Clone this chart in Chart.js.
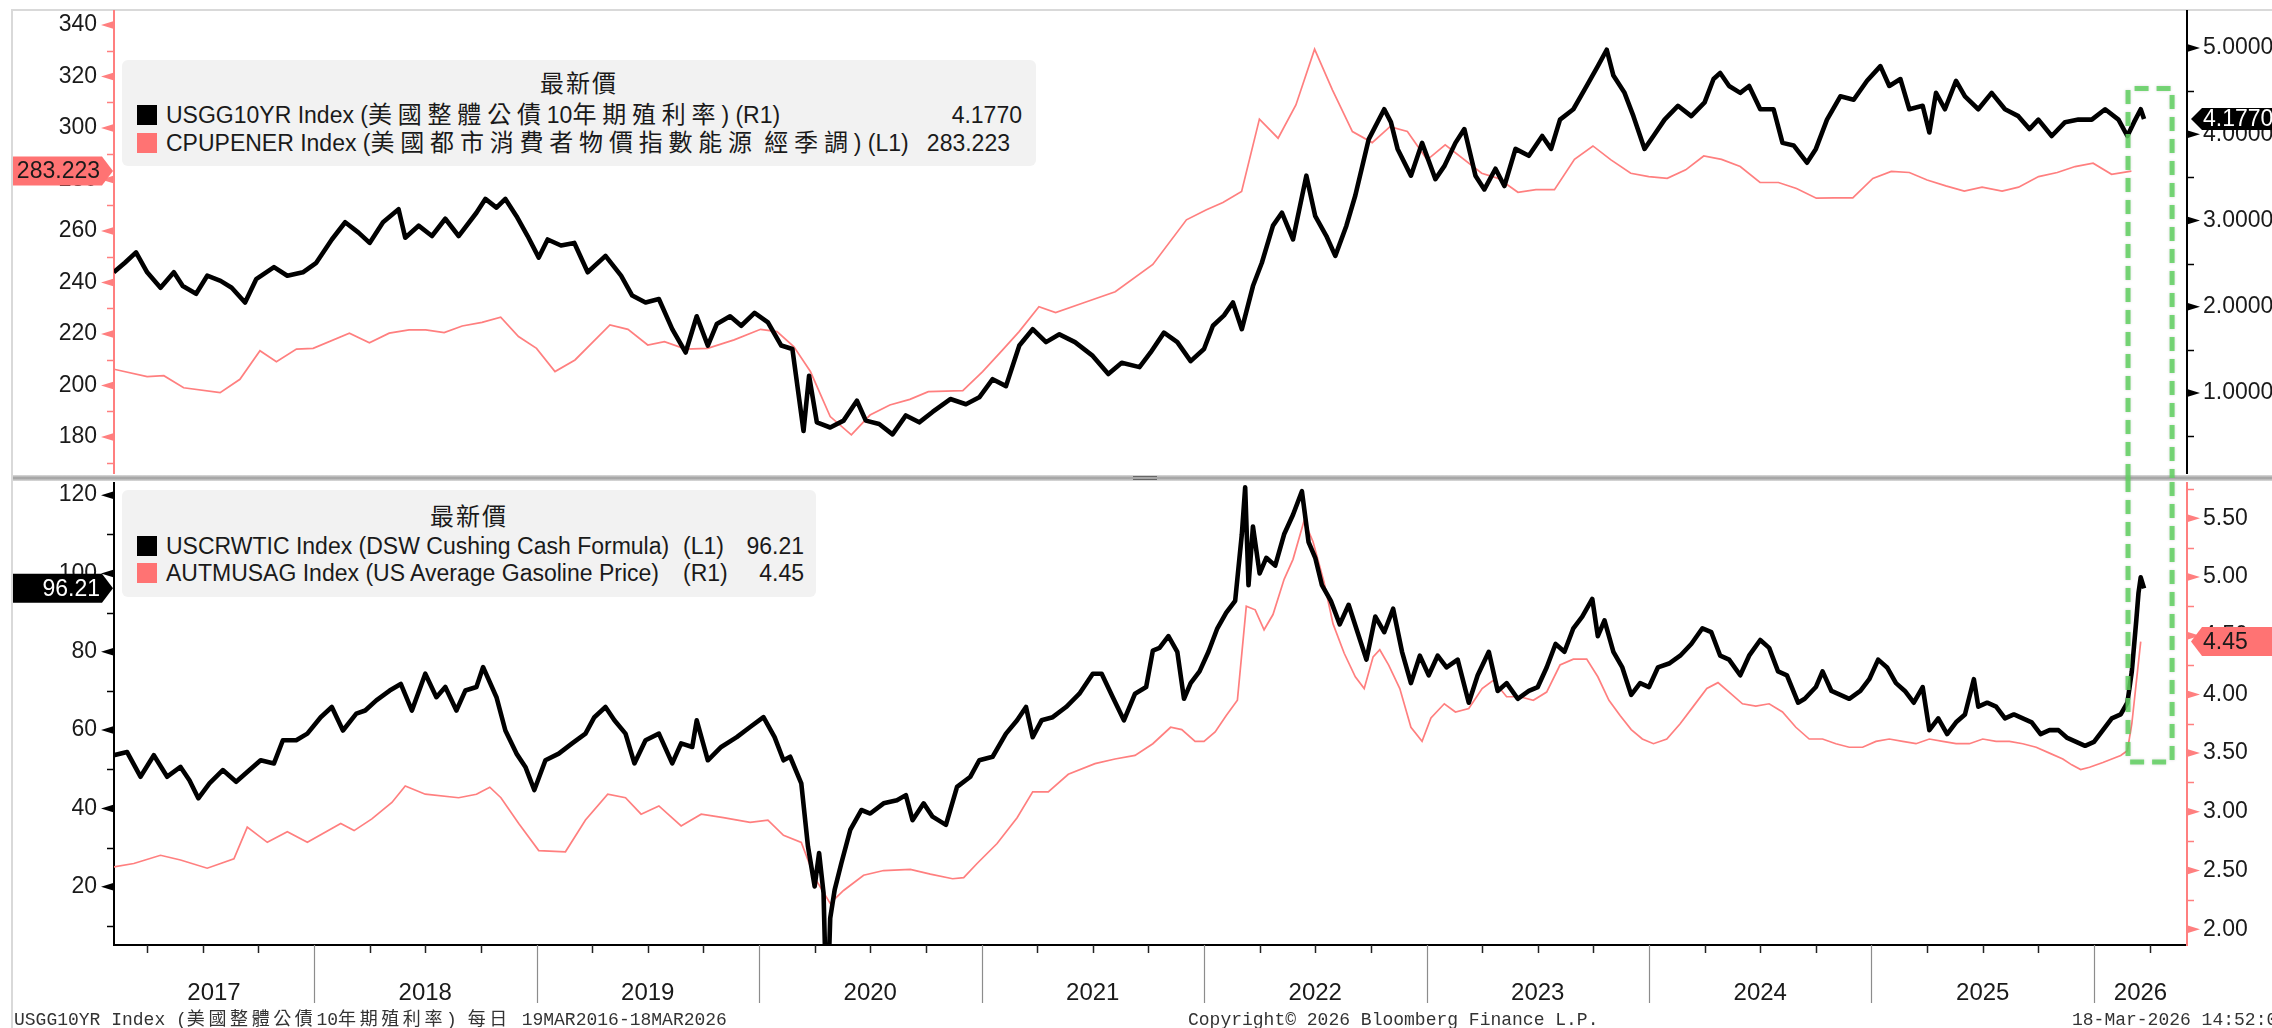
<!DOCTYPE html>
<html lang="zh-Hant">
<head>
<meta charset="utf-8">
<title>USGG10YR / CPUPENER / USCRWTIC / AUTMUSAG</title>
<script src="https://cdn.jsdelivr.net/npm/chart.js@4.4.1/dist/chart.umd.min.js"></script>
<style>
  html,body{margin:0;padding:0;background:#fff;}
  #page{position:relative;width:2272px;height:1028px;overflow:hidden;background:#fff;}
  .frameL{position:absolute;left:11px;top:9px;width:2px;height:1019px;background:#d9d9d9;z-index:0;}
  .frameT{position:absolute;left:11px;top:9px;width:2261px;height:2px;background:#d9d9d9;z-index:0;}
  .sep{position:absolute;left:13px;top:475px;width:2259px;height:6px;background:linear-gradient(#dcdcdc,#9c9c9c 50%,#dcdcdc);z-index:0;}
  .grip{position:absolute;left:1133px;width:24px;height:1px;background:#666;z-index:0;}
  canvas{position:absolute;left:0;z-index:1;}
  #c1{top:0;}
  #c2{top:478px;}
  .lg{position:absolute;background:#f2f2f2;border-radius:6px;font-family:"Liberation Sans","Noto Sans CJK TC",sans-serif;font-size:23px;color:#1a1a1a;z-index:3;}
  .lg .ttl{position:absolute;left:0;right:0;text-align:center;height:28px;line-height:28px;font-size:24px;letter-spacing:2px;}
  .lg .row{position:absolute;left:0;right:0;height:28px;line-height:28px;white-space:nowrap;}
  .lg .sw{position:absolute;left:15px;top:4px;width:20px;height:20px;}
  .lg .tx{position:absolute;left:44px;top:0;}
  .lg .tag{position:absolute;top:0;}
  .lg .val{position:absolute;top:0;}
  .lg .cj{font-size:24px;letter-spacing:5.8px;}
  .foot{position:absolute;top:1009px;height:22px;line-height:22px;font-family:"Liberation Mono","Noto Sans CJK TC",monospace;font-size:18px;color:#333;white-space:nowrap;z-index:3;}
  .foot .cj{font-size:18px;letter-spacing:3.6px;}
</style>
</head>
<body>
<div id="page">
  <div class="frameL"></div>
  <div class="frameT"></div>
  <div class="sep"></div>
  <div class="grip" style="top:476px"></div>
  <div class="grip" style="top:479px"></div>

  <canvas id="c1" width="2272" height="478"></canvas>
  <canvas id="c2" width="2272" height="550"></canvas>

  <div class="lg" style="left:122px;top:60px;width:914px;height:106px;">
    <div class="ttl" style="top:10px;">最新價</div>
    <div class="row" style="top:41px;"><span class="sw" style="background:#000;"></span><span class="tx">USGG10YR Index (<span class="cj">美國整體公債</span>10<span class="cj">年期殖利率</span>) (R1)</span><span class="val" style="right:14px;">4.1770</span></div>
    <div class="row" style="top:69px;"><span class="sw" style="background:#ff7373;"></span><span class="tx">CPUPENER Index (<span class="cj">美國都市消費者物價指數能源</span> <span class="cj">經季調</span>) (L1)</span><span class="val" style="right:26px;">283.223</span></div>
  </div>

  <div class="lg" style="left:122px;top:490px;width:694px;height:107px;">
    <div class="ttl" style="top:13px;">最新價</div>
    <div class="row" style="top:42px;"><span class="sw" style="background:#000;"></span><span class="tx">USCRWTIC Index (DSW Cushing Cash Formula)</span><span class="tag" style="left:561px;">(L1)</span><span class="val" style="right:12px;">96.21</span></div>
    <div class="row" style="top:69px;"><span class="sw" style="background:#ff7373;"></span><span class="tx">AUTMUSAG Index (US Average Gasoline Price)</span><span class="tag" style="left:561px;">(R1)</span><span class="val" style="right:12px;">4.45</span></div>
  </div>

  <div class="foot" style="left:14px;">USGG10YR Index (<span class="cj">美國整體公債</span>10<span class="cj">年期殖利率</span>) <span class="cj">每日</span> 19MAR2016-18MAR2026</div>
  <div class="foot" style="left:1188px;">Copyright© 2026 Bloomberg Finance L.P.</div>
  <div class="foot" style="left:2072px;">18-Mar-2026 14:52:03</div>
</div>

<script>
// ---------------- DATA (decimal-year dates) ----------------
const yearLabels = ['2017','2018','2019','2020','2021','2022','2023','2024','2025','2026'];
const cpiTicks   = [180,200,220,240,260,280,300,320,340];
const yieldTicks = [1,2,3,4,5];
const wtiTicks   = [20,40,60,80,100,120];
const gasTicks   = [2,2.5,3,3.5,4,4.5,5,5.5];

// USGG10YR Index (R1, top)
const usgg10yrT = [2017.10,2017.15,2017.20,2017.25,2017.31,2017.37,2017.41,2017.47,2017.52,2017.58,2017.63,2017.69,2017.74,2017.82,2017.88,2017.95,
  2018.01,2018.08,2018.14,2018.20,2018.25,2018.31,2018.38,2018.41,2018.47,2018.53,2018.59,2018.65,2018.73,2018.77,2018.82,2018.86,2018.91,2018.96,
  2019.01,2019.05,2019.11,2019.17,2019.23,2019.31,2019.38,2019.43,2019.49,2019.55,2019.61,2019.67,2019.72,2019.77,2019.81,2019.87,2019.92,2019.98,
  2020.04,2020.10,2020.15,2020.20,2020.225,2020.26,2020.32,2020.38,2020.44,2020.48,2020.54,2020.60,2020.66,2020.72,2020.78,2020.86,2020.93,2020.99,
  2021.05,2021.11,2021.17,2021.23,2021.29,2021.35,2021.42,2021.50,2021.57,2021.63,2021.71,2021.76,2021.82,2021.88,2021.94,2022.00,
  2022.04,2022.09,2022.13,2022.17,2022.22,2022.26,2022.31,2022.35,2022.40,2022.46,2022.50,2022.55,2022.59,2022.64,2022.68,2022.74,2022.81,2022.84,2022.87,2022.93,2022.98,
  2023.04,2023.08,2023.13,2023.17,2023.22,2023.26,2023.31,2023.35,2023.40,2023.46,2023.52,2023.56,2023.60,2023.66,2023.72,2023.77,2023.81,2023.84,2023.89,2023.93,2023.98,
  2024.02,2024.07,2024.13,2024.19,2024.25,2024.29,2024.32,2024.36,2024.41,2024.45,2024.50,2024.56,2024.60,2024.65,2024.71,2024.75,2024.80,2024.86,2024.92,2024.98,
  2025.04,2025.08,2025.13,2025.17,2025.23,2025.26,2025.29,2025.33,2025.38,2025.42,2025.48,2025.54,2025.60,2025.66,2025.71,2025.75,2025.81,2025.87,2025.93,2025.99,
  2026.05,2026.11,2026.15,2026.18,2026.21,2026.225];
const usgg10yrV = [2.40,2.51,2.63,2.40,2.22,2.40,2.24,2.15,2.36,2.30,2.22,2.05,2.32,2.46,2.36,2.40,
  2.51,2.78,2.98,2.86,2.74,2.98,3.13,2.80,2.94,2.82,3.02,2.82,3.09,3.25,3.15,3.25,3.05,2.82,
  2.57,2.78,2.71,2.74,2.40,2.59,2.36,2.13,2.05,2.09,1.74,1.47,1.89,1.55,1.80,1.89,1.78,1.93,
  1.82,1.55,1.51,0.56,1.20,0.66,0.60,0.68,0.91,0.68,0.64,0.52,0.74,0.66,0.78,0.93,0.87,0.95,
  1.16,1.08,1.55,1.74,1.59,1.68,1.59,1.43,1.22,1.35,1.30,1.47,1.70,1.59,1.37,1.51,
  1.78,1.90,2.05,1.74,2.24,2.51,2.94,3.09,2.78,3.52,3.05,2.82,2.59,2.94,3.29,3.94,4.29,4.14,3.83,3.52,3.90,
  3.48,3.63,3.90,4.06,3.52,3.36,3.60,3.40,3.83,3.75,3.98,3.83,4.17,4.29,4.56,4.79,4.98,4.68,4.48,4.21,3.83,
  3.98,4.17,4.33,4.21,4.37,4.64,4.71,4.56,4.48,4.56,4.29,4.29,3.90,3.87,3.67,3.83,4.17,4.44,4.40,4.62,
  4.79,4.56,4.64,4.29,4.33,4.02,4.48,4.29,4.62,4.44,4.29,4.48,4.29,4.21,4.06,4.17,3.98,4.14,4.17,4.17,
  4.29,4.17,3.98,4.14,4.29,4.177];

// CPUPENER Index (L1, top)
const cpupenerT = [2017.101,2017.250,2017.325,2017.414,2017.578,2017.667,2017.757,2017.831,2017.921,2017.996,
  2018.159,2018.249,2018.338,2018.427,2018.502,2018.585,2018.666,2018.755,2018.839,2018.919,
  2019.000,2019.083,2019.173,2019.330,2019.411,2019.500,2019.575,2019.670,2019.769,2019.888,
  2020.007,2020.081,2020.156,2020.231,2020.320,2020.415,2020.499,2020.588,2020.678,2020.761,2020.916,
  2021.005,2021.095,2021.169,2021.258,2021.333,2021.453,2021.601,2021.770,2021.921,
  2022.011,2022.085,2022.169,2022.249,2022.333,2022.413,2022.497,2022.577,2022.667,2022.756,2022.836,2022.914,
  2023.003,2023.084,2023.248,2023.322,2023.411,2023.492,2023.575,2023.665,2023.748,2023.829,2023.918,2023.999,
  2024.082,2024.165,2024.246,2024.326,2024.410,2024.499,2024.582,2024.663,2024.752,2024.833,2024.916,
  2025.006,2025.089,2025.170,2025.250,2025.334,2025.417,2025.497,2025.587,2025.661,2025.751,2025.835,2025.915,2025.996,
  2026.079,2026.168];
const cpupenerV = [206.3,203.4,203.8,199.1,197.2,202.4,213.5,209.2,214.1,214.4,
  220.3,216.6,220.3,221.6,221.6,220.5,223.1,224.5,226.5,219.0,
  214.4,205.4,209.9,223.5,221.8,215.7,217.0,214.1,214.4,217.7,
  221.8,220.9,215.1,205.4,187.9,180.8,188.5,192.4,194.6,197.6,198.0,
  205.4,213.8,220.9,230.6,228.3,231.9,236.4,247.0,264.3,
  268.2,271.0,275.3,303.4,296.0,308.9,330.6,314.8,298.6,294.3,300.5,298.6,
  287.6,293.4,282.4,280.4,275.0,276.0,276.0,287.8,293.0,287.6,282.4,281.1,
  280.4,283.7,289.1,287.8,285.0,278.8,278.8,276.5,272.7,272.8,272.8,
  280.4,283.1,282.7,279.8,277.5,275.5,277.0,275.5,277.0,281.1,282.7,285.0,286.3,
  282.0,283.223];

// USCRWTIC Index (L1, bottom)
const uscrwticT = [2017.10,2017.16,2017.22,2017.28,2017.34,2017.40,2017.44,2017.48,2017.53,2017.59,2017.65,2017.71,2017.76,2017.82,2017.86,2017.92,2017.97,
  2018.03,2018.08,2018.13,2018.19,2018.23,2018.28,2018.34,2018.39,2018.44,2018.50,2018.55,2018.59,2018.64,2018.68,2018.73,2018.76,2018.82,2018.86,2018.91,2018.95,2018.99,
  2019.04,2019.10,2019.16,2019.22,2019.26,2019.31,2019.35,2019.40,2019.44,2019.49,2019.55,2019.61,2019.65,2019.70,2019.72,2019.77,2019.83,2019.90,2019.96,
  2020.02,2020.07,2020.11,2020.14,2020.19,2020.22,2020.25,2020.27,2020.29,2020.305,2020.32,2020.34,2020.37,2020.41,2020.46,2020.50,2020.56,2020.62,2020.66,2020.69,2020.74,2020.78,2020.84,2020.89,2020.95,2020.99,
  2021.05,2021.11,2021.16,2021.20,2021.23,2021.27,2021.32,2021.38,2021.44,2021.50,2021.54,2021.59,2021.64,2021.69,2021.74,2021.77,2021.80,2021.84,2021.88,2021.91,2021.94,2021.98,
  2022.02,2022.06,2022.10,2022.14,2022.17,2022.185,2022.20,2022.22,2022.25,2022.28,2022.32,2022.36,2022.40,2022.44,2022.47,2022.50,2022.53,2022.57,2022.61,2022.65,2022.69,2022.73,2022.77,2022.81,2022.85,2022.89,2022.93,2022.97,
  2023.01,2023.05,2023.09,2023.14,2023.19,2023.23,2023.28,2023.32,2023.36,2023.41,2023.46,2023.50,2023.54,2023.58,2023.62,2023.66,2023.70,2023.745,2023.77,2023.80,2023.84,2023.88,2023.92,2023.96,
  2024.00,2024.04,2024.09,2024.14,2024.19,2024.24,2024.28,2024.32,2024.36,2024.41,2024.45,2024.50,2024.54,2024.58,2024.62,2024.67,2024.70,2024.75,2024.78,2024.82,2024.86,2024.90,2024.95,2024.99,
  2025.03,2025.07,2025.11,2025.15,2025.19,2025.23,2025.26,2025.30,2025.34,2025.38,2025.42,2025.46,2025.48,2025.52,2025.56,2025.60,2025.64,2025.68,2025.72,2025.76,2025.80,2025.84,2025.88,2025.92,2025.96,
  2026.00,2026.04,2026.08,2026.12,2026.15,2026.17,2026.19,2026.20,2026.21,2026.225];
const uscrwticV = [53.6,54.4,48.1,53.6,48.1,50.6,47.2,42.6,46.4,49.8,46.8,49.8,52.3,51.5,57.4,57.4,59.1,
  63.3,65.9,59.9,64.2,65.0,67.6,70.1,71.8,65.0,74.4,68.4,71.0,65.0,70.1,71.0,76.1,68.4,59.9,54.0,50.6,44.7,
  52.3,54.0,56.6,59.1,63.3,65.9,62.5,59.1,51.5,57.4,59.1,51.5,56.6,55.7,62.5,52.3,55.7,58.2,60.8,
  63.3,58.2,52.3,53.2,46.4,30.3,20.1,28.6,18.4,-15.0,12.0,19.2,26.0,34.5,39.6,38.7,41.3,42.1,43.4,37.0,41.3,37.9,35.8,45.5,48.1,52.3,
  53.2,59.1,62.5,65.9,58.2,62.5,63.3,65.9,69.3,74.4,74.4,68.4,62.5,69.3,71.0,80.3,81.0,84.0,80.0,68.0,72.0,75.0,
  80.0,86.0,90.0,93.0,110.0,122.0,97.0,112.0,100.0,104.0,102.0,110.0,115.0,121.0,108.0,104.0,97.0,93.0,87.0,92.0,85.0,78.0,89.0,85.0,91.0,80.0,72.0,79.0,
  74.0,79.0,76.0,78.0,67.0,74.0,80.0,70.0,72.0,68.0,70.0,71.0,76.0,82.0,80.0,86.0,89.0,93.5,84.0,88.0,80.0,76.0,69.0,72.0,
  71.0,76.0,77.0,79.0,82.0,86.0,85.0,79.0,78.0,74.0,79.0,83.0,81.0,75.0,74.0,67.0,68.0,71.0,75.0,70.0,69.0,68.0,70.0,73.0,
  78.0,76.0,72.0,70.0,67.0,71.0,60.0,63.0,59.0,62.0,64.0,73.0,66.0,67.0,66.0,63.0,64.0,63.0,62.0,59.0,60.0,60.0,58.0,57.0,56.0,
  57.0,60.0,63.0,64.0,67.0,75.0,88.0,95.0,99.0,96.21];

// AUTMUSAG Index (R1, bottom)
const autmusagT = [2017.10,2017.19,2017.31,2017.40,2017.52,2017.64,2017.70,2017.79,2017.88,2017.97,
  2018.12,2018.18,2018.26,2018.35,2018.41,2018.50,2018.65,2018.73,2018.79,2018.84,2018.92,
  2019.01,2019.13,2019.22,2019.32,2019.40,2019.47,2019.55,2019.65,2019.74,2019.84,2019.96,
  2020.04,2020.11,2020.19,2020.25,2020.32,2020.38,2020.47,2020.56,2020.68,2020.77,2020.87,2020.92,2020.98,
  2021.07,2021.16,2021.23,2021.30,2021.39,2021.51,2021.60,2021.69,2021.77,2021.85,2021.90,2021.96,
  2022.00,2022.05,2022.10,2022.15,2022.19,2022.23,2022.27,2022.31,2022.36,2022.40,2022.45,2022.49,2022.54,2022.58,2022.63,2022.68,2022.72,2022.76,2022.79,2022.83,2022.88,2022.93,2022.98,
  2023.02,2023.08,2023.13,2023.19,2023.25,2023.30,2023.36,2023.42,2023.48,2023.54,2023.60,2023.66,2023.72,2023.77,2023.82,2023.87,2023.92,2023.97,
  2024.02,2024.08,2024.14,2024.20,2024.26,2024.31,2024.36,2024.42,2024.48,2024.54,2024.60,2024.66,2024.72,2024.78,2024.84,2024.90,2024.96,
  2025.02,2025.08,2025.14,2025.20,2025.26,2025.32,2025.38,2025.44,2025.50,2025.56,2025.62,2025.68,2025.74,2025.80,2025.86,2025.90,2025.94,2025.98,
  2026.04,2026.08,2026.12,2026.15,2026.17,2026.19,2026.21];
const autmusagV = [2.53,2.56,2.63,2.59,2.52,2.60,2.87,2.74,2.83,2.74,
  2.90,2.84,2.94,3.08,3.22,3.15,3.12,3.15,3.21,3.12,2.90,
  2.67,2.66,2.93,3.15,3.12,2.98,3.05,2.88,2.98,2.95,2.91,
  2.93,2.80,2.74,2.44,2.22,2.33,2.46,2.50,2.51,2.47,2.43,2.44,2.56,
  2.73,2.95,3.17,3.17,3.32,3.41,3.45,3.48,3.58,3.72,3.70,3.60,
  3.60,3.68,3.82,3.95,4.75,4.72,4.55,4.68,4.98,5.15,5.48,5.30,4.95,4.60,4.35,4.15,4.05,4.32,4.38,4.25,4.05,3.72,3.60,
  3.80,3.92,3.85,3.88,4.05,4.12,3.98,3.98,3.95,4.02,4.25,4.30,4.30,4.15,3.95,3.82,3.70,3.62,
  3.58,3.62,3.75,3.90,4.05,4.10,4.02,3.92,3.90,3.92,3.85,3.72,3.62,3.62,3.58,3.55,3.55,
  3.60,3.62,3.60,3.58,3.62,3.60,3.58,3.58,3.62,3.60,3.60,3.58,3.55,3.50,3.45,3.40,3.36,3.38,
  3.42,3.45,3.48,3.52,3.75,4.10,4.45];

// highlighted window (green dashed box): x range in years, top on yield scale, bottom on gasoline scale
const highlightX = [2026.153, 2026.351];
const highlightTopYield = 4.53;
const highlightBottomGas = 3.425;

// ---------------- CHART ----------------
const X_MIN = 2017.101, X_MAX = 2026.418;
const RED = '#ff7f7f', RED_FILL = '#ff7373';
const TICK_FONT = {family: '"Liberation Sans"', size: 23};
const LABEL_COLOR = '#1a1a1a';

function pts(ts, vs) { return ts.map((t, i) => ({x: t, y: vs[i]})); }
function minorsOf(majors, lo, hi) {
  const step = majors[1] - majors[0];
  const out = [];
  for (let i = -1; i < majors.length; i++) {
    const v = (i < 0 ? majors[0] - step / 2 : majors[i] + step / 2);
    if (v >= lo && v <= hi) out.push(v);
  }
  return out;
}
function fixedTicks(list) { return (s) => { s.ticks = list.map(v => ({value: v})); }; }
function noPad(s) { s.paddingTop = 0; s.paddingBottom = 0; s.paddingLeft = 0; s.paddingRight = 0; }

const decorPlugin = {
  id: 'decor',
  afterDraw(chart, args, opts) {
    const ctx = chart.ctx, ca = chart.chartArea;
    ctx.save();
    (opts.axes || []).forEach(a => {
      const s = chart.scales[a.id];
      const x0 = a.side === 'left' ? ca.left : ca.right;
      const dir = a.side === 'left' ? -1 : 1;
      ctx.fillStyle = a.color; ctx.strokeStyle = a.color; ctx.lineWidth = 1.5;
      a.majors.forEach(v => {
        const y = s.getPixelForValue(v);
        ctx.beginPath(); ctx.moveTo(x0, y - 4); ctx.lineTo(x0 + dir * 13, y); ctx.lineTo(x0, y + 4); ctx.closePath(); ctx.fill();
      });
      minorsOf(a.majors, s.min, s.max).forEach(v => {
        const y = Math.round(s.getPixelForValue(v)) + 0.5;
        ctx.beginPath(); ctx.moveTo(x0, y); ctx.lineTo(x0 + dir * 7, y); ctx.stroke();
      });
    });
    if (opts.xaxis) {
      const xs = chart.scales.x, yb = ca.bottom;
      yearLabels.forEach(lbl => {
        const yr = Number(lbl);
        for (let q = 0; q < 4; q++) {
          const t = yr + q * 0.25;
          if (t < xs.min || t > xs.max) continue;
          const x = Math.round(xs.getPixelForValue(t)) + 0.5;
          ctx.beginPath();
          if (q === 0) { ctx.strokeStyle = '#8c8c8c'; ctx.lineWidth = 1.2; ctx.moveTo(x, yb); ctx.lineTo(x, yb + 58); }
          else { ctx.strokeStyle = '#222'; ctx.lineWidth = 1.5; ctx.moveTo(x, yb); ctx.lineTo(x, yb + 8); }
          ctx.stroke();
        }
      });
    }
    (opts.boxes || []).forEach(b => {
      const s = chart.scales[b.id];
      const y = s.getPixelForValue(b.value), h = b.h;
      ctx.fillStyle = b.fill;
      ctx.beginPath();
      if (b.side === 'left') {
        const xr = ca.left - 1;
        ctx.moveTo(13, y - h / 2); ctx.lineTo(xr - 11, y - h / 2); ctx.lineTo(xr, y); ctx.lineTo(xr - 11, y + h / 2); ctx.lineTo(13, y + h / 2);
      } else {
        const xl = ca.right + 4;
        ctx.moveTo(xl, y); ctx.lineTo(xl + 11, y - h / 2); ctx.lineTo(chart.width, y - h / 2); ctx.lineTo(chart.width, y + h / 2); ctx.lineTo(xl + 11, y + h / 2);
      }
      ctx.closePath(); ctx.fill();
      ctx.fillStyle = b.color; ctx.font = '23px "Liberation Sans"'; ctx.textBaseline = 'middle';
      const txt = b.value.toFixed(b.dec);
      if (b.side === 'left') { ctx.textAlign = 'right'; ctx.fillText(txt, ca.left - 14, y + 1); }
      else { ctx.textAlign = 'left'; ctx.fillText(txt, ca.right + 16, y + 1); }
    });
    if (opts.highlight) {
      const h = opts.highlight, xs = chart.scales.x;
      const xl = xs.getPixelForValue(h.from), xr = xs.getPixelForValue(h.to);
      const y = chart.scales[h.id].getPixelForValue(h.value);
      ctx.setLineDash([14, 8]); ctx.lineWidth = 5; ctx.strokeStyle = 'rgba(96,208,96,0.85)';
      ctx.shadowColor = 'rgba(0,0,0,0.18)'; ctx.shadowBlur = 3;
      ctx.beginPath();
      const yEdge = h.edge === 'top' ? chart.height : 0;
      ctx.moveTo(xl, yEdge); ctx.lineTo(xl, y); ctx.lineTo(xr, y); ctx.lineTo(xr, yEdge);
      ctx.stroke();
    }
    ctx.restore();
  }
};

function yScale(side, min, max, majors, fmt, borderColor, width) {
  return {
    type: 'linear', position: side, min: min, max: max,
    afterFit: (s) => { s.width = width; noPad(s); },
    afterBuildTicks: fixedTicks(majors),
    grid: {display: false, drawTicks: false, drawOnChartArea: false},
    border: {display: true, color: borderColor, width: 2},
    ticks: {autoSkip: false, font: TICK_FONT, color: LABEL_COLOR, padding: side === 'left' ? 17 : 16, callback: fmt}
  };
}

const lastOf = a => a[a.length - 1];

new Chart(document.getElementById('c1'), {
  type: 'line',
  data: {datasets: [
    {label: 'USGG10YR Index', data: pts(usgg10yrT, usgg10yrV), yAxisID: 'yR', borderColor: '#000', borderWidth: 4.6, pointRadius: 0, tension: 0, order: 0, borderJoinStyle: 'round'},
    {label: 'CPUPENER Index', data: pts(cpupenerT, cpupenerV), yAxisID: 'yL', borderColor: RED, borderWidth: 1.7, pointRadius: 0, tension: 0, order: 1}
  ]},
  options: {
    responsive: false, animation: false, devicePixelRatio: 1,
    layout: {autoPadding: false, padding: {top: 11, bottom: 5, left: 0, right: 0}},
    plugins: {
      legend: {display: false}, tooltip: {enabled: false},
      decor: {
        axes: [
          {id: 'yL', side: 'left', color: RED, majors: cpiTicks},
          {id: 'yR', side: 'right', color: '#000', majors: yieldTicks}
        ],
        boxes: [
          {id: 'yL', side: 'left', value: lastOf(cpupenerV), dec: 3, fill: RED_FILL, color: '#1a1a1a', h: 29},
          {id: 'yR', side: 'right', value: lastOf(usgg10yrV), dec: 4, fill: '#000', color: '#fff', h: 22}
        ],
        highlight: {from: highlightX[0], to: highlightX[1], id: 'yR', value: highlightTopYield, edge: 'top'}
      }
    },
    scales: {
      x: {type: 'linear', min: X_MIN, max: X_MAX, display: false},
      yL: yScale('left', 166.0, 345.4, cpiTicks, v => String(v), RED, 114),
      yR: yScale('right', 0.0725, 5.429, yieldTicks, v => v.toFixed(4), '#000', 85)
    }
  },
  plugins: [decorPlugin]
});

new Chart(document.getElementById('c2'), {
  type: 'line',
  data: {datasets: [
    {label: 'USCRWTIC Index', data: pts(uscrwticT, uscrwticV), yAxisID: 'yL', borderColor: '#000', borderWidth: 4.6, pointRadius: 0, tension: 0, order: 0, borderJoinStyle: 'round'},
    {label: 'AUTMUSAG Index', data: pts(autmusagT, autmusagV), yAxisID: 'yR', borderColor: RED, borderWidth: 1.7, pointRadius: 0, tension: 0, order: 1}
  ]},
  options: {
    responsive: false, animation: false, devicePixelRatio: 1,
    layout: {autoPadding: false, padding: {top: 5, bottom: 0, left: 0, right: 0}},
    plugins: {
      legend: {display: false}, tooltip: {enabled: false},
      decor: {
        axes: [
          {id: 'yL', side: 'left', color: '#000', majors: wtiTicks},
          {id: 'yR', side: 'right', color: RED, majors: gasTicks}
        ],
        boxes: [
          {id: 'yL', side: 'left', value: lastOf(uscrwticV), dec: 2, fill: '#000', color: '#fff', h: 29},
          {id: 'yR', side: 'right', value: lastOf(autmusagV), dec: 2, fill: RED_FILL, color: '#1a1a1a', h: 29}
        ],
        xaxis: true,
        highlight: {from: highlightX[0], to: highlightX[1], id: 'yR', value: highlightBottomGas, edge: 'bottom'}
      }
    },
    scales: {
      x: {
        type: 'linear', min: X_MIN, max: X_MAX, position: 'bottom',
        afterFit: (s) => { s.height = 83; noPad(s); },
        afterBuildTicks: (s) => {
          s.ticks = yearLabels.map(l => {
            const a = Math.max(Number(l), X_MIN), b = Math.min(Number(l) + 1, X_MAX);
            return {value: (a + b) / 2};
          });
        },
        grid: {display: false, drawTicks: false},
        border: {display: true, color: '#000', width: 2},
        ticks: {autoSkip: false, maxRotation: 0, padding: 34, font: {family: '"Liberation Sans"', size: 24}, color: LABEL_COLOR,
          callback: (v) => yearLabels[Math.floor(v) - Number(yearLabels[0])]}
      },
      yL: yScale('left', 5.13, 123.1, wtiTicks, v => String(v), '#000', 114),
      yR: yScale('right', 1.866, 5.80, gasTicks, v => v.toFixed(2), RED, 85)
    }
  },
  plugins: [decorPlugin]
});
</script>
</body>
</html>
